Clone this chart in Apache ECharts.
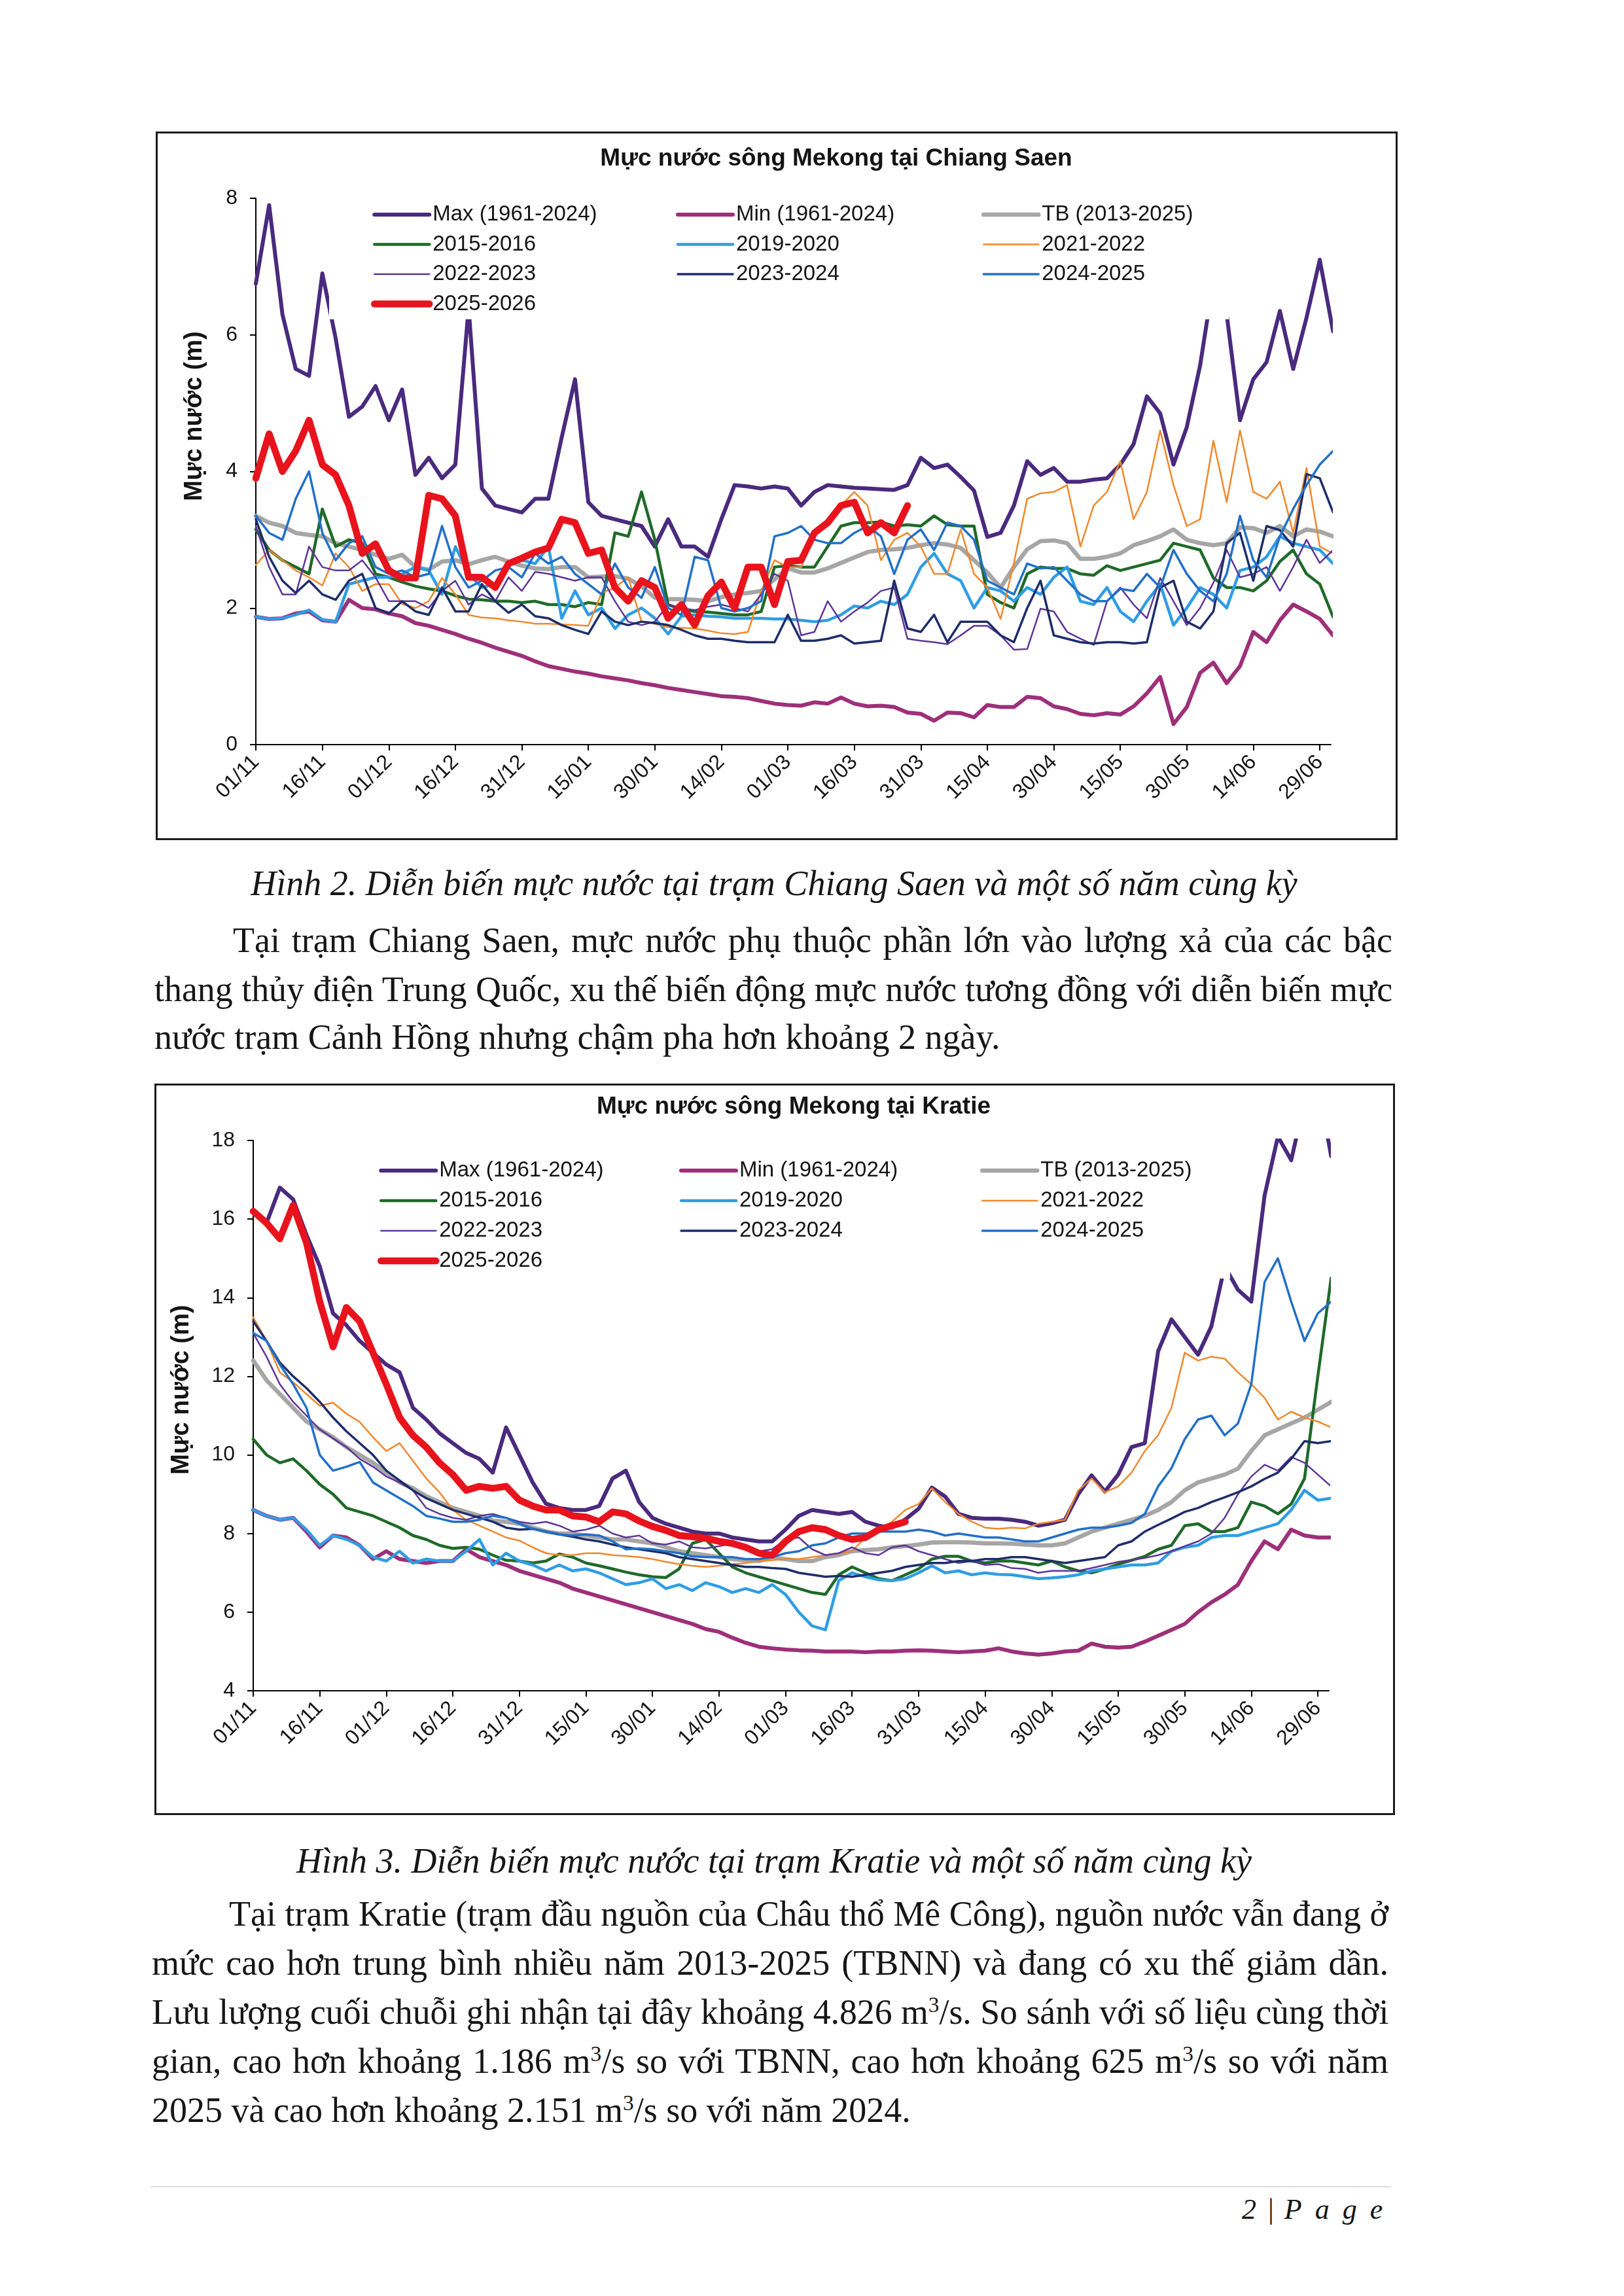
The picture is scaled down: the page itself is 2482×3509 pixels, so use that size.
<!DOCTYPE html>
<html lang="vi">
<head>
<meta charset="utf-8">
<title>Mực nước sông Mekong</title>
<script src="https://cdn.jsdelivr.net/npm/echarts@6.0.0/dist/echarts.min.js"></script>
<style>
  html, body { margin:0; padding:0; background:#fff; }
  body { width:2482px; height:3509px; position:relative; overflow:hidden; color:#161616;
         font-family:"Liberation Serif","Times New Roman",serif; }
  .box { position:absolute; border:3px solid #1b1b1b; box-sizing:border-box; background:#fff; }
  .box > div { position:absolute; left:0; top:0; }
  .t { position:absolute; font-size:54px; line-height:74px; white-space:nowrap; transform-origin:0 50%; }
  .j { text-align:justify; text-align-last:justify; }
  .cap { font-style:italic; text-align:center; }
  sup { font-size:0.62em; line-height:0; vertical-align:0.55em; }
  .rule { position:absolute; left:231px; top:3341px; width:1894px; height:2px; background:#dcdcdc; }
  .pg { position:absolute; top:3355px; left:1898px; font-size:44px; line-height:44px; white-space:nowrap; }
</style>
</head>
<body>

<div class="box" style="left:238px;top:201px;width:1898px;height:1083px"><div id="c1" style="width:1892px;height:1077px"></div></div>

<div class="t cap" style="left:383px;top:1313px;width:1600px">Hình 2. Diễn biến mực nước tại trạm Chiang Saen và một số năm cùng kỳ</div>
<div class="t j" style="left:356px;top:1400px;width:1772px">Tại trạm Chiang Saen, mực nước phụ thuộc phần lớn vào lượng xả của các bậc</div>
<div class="t j" style="left:236px;top:1475px;width:1892px">thang thủy điện Trung Quốc, xu thế biến động mực nước tương đồng với diễn biến mực</div>
<div class="t" style="left:236px;top:1548px">nước trạm Cảnh Hồng nhưng chậm pha hơn khoảng 2 ngày.</div>

<div class="box" style="left:236px;top:1656px;width:1896px;height:1118px"><div id="c2" style="width:1890px;height:1112px"></div></div>

<div class="t cap" style="left:383px;top:2807px;width:1600px">Hình 3. Diễn biến mực nước tại trạm Kratie và một số năm cùng kỳ</div>
<div class="t j" style="left:350px;top:2888px;width:1772px">Tại trạm Kratie (trạm đầu nguồn của Châu thổ Mê Công), nguồn nước vẫn đang ở</div>
<div class="t j" style="left:232px;top:2963px;width:1890px">mức cao hơn trung bình nhiều năm 2013-2025 (TBNN) và đang có xu thế giảm dần.</div>
<div class="t j" style="left:232px;top:3038px;width:1890px">Lưu lượng cuối chuỗi ghi nhận tại đây khoảng 4.826 m<sup>3</sup>/s. So sánh với số liệu cùng thời</div>
<div class="t j" style="left:232px;top:3113px;width:1890px">gian, cao hơn khoảng 1.186 m<sup>3</sup>/s so với TBNN, cao hơn khoảng 625 m<sup>3</sup>/s so với năm</div>
<div class="t" style="left:232px;top:3188px">2025 và cao hơn khoảng 2.151 m<sup>3</sup>/s so với năm 2024.</div>

<div class="rule"></div>
<div class="pg"><i>2</i><span style="margin:0 16px 0 18px">|</span><i style="letter-spacing:20px">Page</i></div>

<script>
// ---------------- data ----------------
const TICK_LABELS = ['01/11','16/11','01/12','16/12','31/12','15/01','30/01','14/02','01/03','16/03','31/03','15/04','30/04','15/05','30/05','14/06','29/06'];
const STEP = 3; // days between read-off points, starting 01/11
const NAMES = ['Max (1961-2024)','Min (1961-2024)','TB (2013-2025)','2015-2016','2019-2020','2021-2022','2022-2023','2023-2024','2024-2025','2025-2026'];

// Chiang Saen (m)
const csMax = [6.75,7.9,6.3,5.5,5.4,6.9,5.95,4.8,4.95,5.25,
4.75,5.2,3.95,4.2,3.9,4.1,6.4,3.75,3.5,3.45,
3.4,3.6,3.6,4.5,5.35,3.55,3.35,3.3,3.25,3.2,
2.9,3.3,2.9,2.9,2.75,3.3,3.8,3.78,3.75,3.78,
3.75,3.5,3.7,3.8,3.78,3.76,3.75,3.74,3.73,3.8,
4.2,4.05,4.1,3.92,3.72,3.04,3.1,3.5,4.15,3.95,
4.05,3.85,3.85,3.88,3.9,4.1,4.4,5.1,4.85,4.1,
4.65,5.55,6.8,6.3,4.75,5.35,5.6,6.35,5.5,6.25,
7.1,6.05];
const csMin = [1.87,1.84,1.85,1.92,1.95,1.82,1.8,2.12,2.0,1.98,
1.92,1.88,1.78,1.74,1.68,1.62,1.55,1.49,1.42,1.36,
1.3,1.22,1.15,1.11,1.07,1.04,1.0,0.97,0.94,0.9,
0.87,0.83,0.8,0.77,0.74,0.71,0.7,0.68,0.64,0.6,
0.58,0.57,0.62,0.6,0.69,0.6,0.56,0.57,0.55,0.47,
0.45,0.35,0.47,0.46,0.4,0.58,0.55,0.55,0.7,0.68,
0.56,0.52,0.45,0.43,0.46,0.44,0.56,0.75,0.99,0.3,
0.55,1.05,1.2,0.9,1.15,1.65,1.5,1.82,2.05,1.95,
1.84,1.6];
const csTB = [3.35,3.25,3.2,3.1,3.07,3.05,2.95,2.9,2.85,2.78,
2.72,2.78,2.6,2.56,2.68,2.7,2.64,2.7,2.75,2.68,
2.62,2.58,2.57,2.6,2.6,2.45,2.46,2.47,2.43,2.32,
2.15,2.13,2.13,2.12,2.1,2.16,2.2,2.22,2.25,2.42,
2.58,2.52,2.52,2.58,2.66,2.74,2.82,2.85,2.86,2.88,
2.92,2.95,2.93,2.88,2.7,2.52,2.3,2.6,2.86,2.98,
2.99,2.95,2.72,2.72,2.75,2.8,2.92,2.98,3.05,3.15,
3.0,2.95,2.92,2.95,3.18,3.17,3.1,3.2,3.05,3.15,
3.12,3.05];
const cs2015 = [3.15,2.85,2.7,2.6,2.5,3.45,2.9,3.0,2.95,2.5,
2.45,2.38,2.32,2.28,2.25,2.18,2.13,2.12,2.1,2.1,
2.08,2.1,2.05,2.05,2.02,2.08,2.05,3.1,3.05,3.7,
3.0,2.05,1.98,1.95,1.94,1.92,1.9,1.9,1.95,2.6,
2.62,2.6,2.6,2.9,3.2,3.25,3.25,3.26,3.2,3.22,
3.2,3.35,3.22,3.2,3.2,2.2,2.08,2.0,2.5,2.6,
2.58,2.58,2.5,2.48,2.62,2.55,2.6,2.65,2.7,2.95,
2.9,2.85,2.44,2.3,2.3,2.25,2.4,2.68,2.85,2.5,
2.35,1.87];
const cs2019 = [1.87,1.84,1.85,1.9,1.97,1.83,1.8,2.35,2.4,2.45,
2.45,2.5,2.6,2.55,2.2,2.9,2.5,2.3,2.35,2.65,
2.7,2.65,2.9,1.85,2.25,1.9,2.0,1.7,1.9,2.0,
1.85,1.62,1.88,1.9,1.88,1.87,1.85,1.85,1.85,1.84,
1.84,1.82,1.8,1.82,1.9,2.03,2.0,2.1,2.05,2.2,
2.6,2.8,2.5,2.4,2.0,2.3,2.25,2.1,2.3,2.2,
2.45,2.6,2.1,2.05,2.3,1.95,1.8,2.1,2.35,1.75,
2.0,2.3,2.2,2.0,2.55,2.6,2.75,3.05,2.95,2.9,
2.85,2.65];
const cs2021 = [2.63,2.85,2.7,2.55,2.45,2.33,2.8,2.6,2.25,2.35,
2.35,2.06,2.0,2.1,2.44,2.2,1.9,1.86,1.85,1.82,
1.8,1.77,1.77,1.76,1.75,1.74,2.22,2.3,2.45,1.8,
1.77,1.72,1.71,1.7,1.67,1.63,1.62,1.65,2.25,2.7,
2.6,2.6,3.1,3.3,3.5,3.7,3.5,2.7,3.0,3.1,
2.9,2.5,2.5,3.15,2.5,2.3,1.84,2.66,3.6,3.68,
3.7,3.8,2.9,3.5,3.7,4.15,3.3,3.7,4.6,3.8,
3.2,3.3,4.45,3.55,4.6,3.7,3.6,3.85,3.1,4.05,
2.9,2.8];
const cs2022 = [3.2,2.6,2.2,2.2,2.9,2.6,2.55,2.55,2.7,2.45,
2.1,2.1,2.1,2.0,2.25,2.4,2.05,2.2,2.1,2.45,
2.25,2.53,2.5,2.45,2.4,2.45,2.45,2.1,1.8,1.75,
1.8,2.05,2.0,1.97,2.02,2.05,2.0,1.95,2.2,2.5,
2.4,1.6,1.65,2.1,1.8,1.95,2.08,2.25,2.3,1.55,
1.52,1.5,1.47,1.6,1.74,1.74,1.6,1.39,1.4,1.99,
1.95,1.65,1.55,1.46,2.1,2.3,2.05,1.85,2.44,2.1,
1.75,2.0,2.37,2.85,2.45,2.5,2.6,2.25,2.6,3.0,
2.66,2.85];
const cs2023 = [3.3,2.75,2.4,2.22,2.4,2.2,2.12,2.4,2.5,2.0,
1.92,2.1,1.95,1.9,2.3,1.95,1.95,2.35,2.1,1.93,
2.05,1.88,1.85,1.75,1.68,1.62,1.95,1.8,1.75,1.8,
1.78,1.75,1.68,1.6,1.55,1.55,1.52,1.5,1.5,1.5,
1.9,1.52,1.52,1.55,1.6,1.48,1.5,1.52,2.4,1.7,
1.65,1.9,1.5,1.8,1.8,1.8,1.6,1.5,2.0,2.4,
1.6,1.55,1.5,1.48,1.5,1.5,1.48,1.5,2.3,2.4,
1.8,1.7,1.95,2.95,3.1,2.4,3.2,3.14,2.9,3.96,
3.9,3.4];
const cs2024 = [3.35,3.1,3.0,3.6,4.0,3.1,2.7,2.95,3.05,2.6,
2.5,2.55,2.45,2.5,3.2,2.6,2.3,2.4,2.55,2.6,
2.45,2.8,2.65,2.75,2.5,2.35,2.2,2.65,2.3,2.15,
2.6,2.0,1.9,2.75,2.7,2.0,1.95,2.0,2.1,3.05,
3.1,3.2,3.0,2.95,2.95,3.1,3.2,3.05,2.5,3.0,
3.15,2.85,3.25,3.2,3.0,2.4,2.3,2.2,2.65,2.58,
2.6,2.4,2.2,2.1,2.1,2.28,2.25,2.5,2.3,2.85,
2.5,2.25,2.1,2.5,3.35,2.7,2.45,3.05,3.45,3.8,
4.1,4.3];
const cs2025 = [3.9,4.55,4.0,4.3,4.75,4.1,3.95,3.5,2.8,2.94,
2.55,2.44,2.44,3.65,3.6,3.35,2.45,2.45,2.3,2.65,
2.73,2.82,2.88,3.3,3.25,2.8,2.85,2.3,2.1,2.4,
2.3,1.85,2.05,1.75,2.18,2.38,2.0,2.6,2.6,2.05,
2.68,2.7,3.1,3.25,3.5,3.55,3.1,3.25,3.1,3.5];

// Kratie (m)
const krMax = [16.2,15.9,16.8,16.5,15.6,14.8,13.6,13.3,12.9,12.6,
12.3,12.1,11.2,10.9,10.55,10.3,10.05,9.9,9.55,10.7,
10.0,9.3,8.76,8.65,8.6,8.6,8.7,9.4,9.6,8.8,
8.4,8.25,8.15,8.05,8.0,8.0,7.9,7.85,7.8,7.8,
8.1,8.45,8.6,8.55,8.5,8.55,8.3,8.2,8.15,8.36,
8.63,9.17,8.94,8.5,8.4,8.38,8.38,8.35,8.3,8.2,
8.26,8.35,9.0,9.48,9.07,9.5,10.2,10.3,12.64,13.45,
13.0,12.55,13.27,14.8,14.2,13.9,16.6,18.1,17.5,19.0,
19.5,17.6];
const krMin = [8.6,8.45,8.35,8.4,8.05,7.65,7.95,7.9,7.7,7.35,
7.55,7.35,7.3,7.25,7.3,7.3,7.6,7.4,7.3,7.2,
7.05,6.95,6.85,6.75,6.6,6.5,6.4,6.3,6.2,6.1,
6.0,5.9,5.8,5.7,5.57,5.5,5.35,5.22,5.12,5.08,
5.05,5.03,5.02,5.0,5.0,5.0,4.98,5.0,5.0,5.02,
5.03,5.02,5.0,4.98,5.0,5.02,5.08,5.0,4.95,4.92,
4.95,5.0,5.02,5.2,5.12,5.1,5.12,5.25,5.4,5.55,
5.7,6.0,6.25,6.45,6.7,7.3,7.8,7.6,8.1,7.95,
7.9,7.9];
const krTB = [12.4,11.9,11.55,11.2,10.85,10.65,10.45,10.2,10.0,9.8,
9.55,9.3,9.15,8.95,8.8,8.65,8.55,8.45,8.33,8.3,
8.25,8.15,8.05,8.0,8.0,7.95,7.9,7.85,7.85,7.8,
7.75,7.65,7.55,7.5,7.45,7.4,7.35,7.32,7.3,7.38,
7.35,7.3,7.3,7.4,7.45,7.55,7.58,7.6,7.65,7.68,
7.72,7.77,7.78,7.78,7.77,7.75,7.75,7.74,7.72,7.7,
7.7,7.75,7.9,8.05,8.15,8.25,8.35,8.45,8.6,8.8,
9.1,9.3,9.4,9.5,9.65,10.1,10.5,10.65,10.8,10.95,
11.15,11.35];
const kr2015 = [10.4,10.0,9.8,9.9,9.6,9.25,9.0,8.65,8.55,8.45,
8.3,8.15,7.95,7.85,7.7,7.62,7.65,7.6,7.45,7.32,
7.3,7.25,7.3,7.48,7.4,7.25,7.18,7.1,7.02,6.95,
6.9,6.88,7.1,7.75,7.85,7.5,7.15,7.0,6.9,6.8,
6.7,6.6,6.5,6.45,6.95,7.15,7.0,6.85,6.8,6.95,
7.1,7.35,7.42,7.42,7.3,7.25,7.3,7.3,7.25,7.2,
7.3,7.15,7.05,7.0,7.1,7.22,7.32,7.42,7.6,7.7,
8.2,8.25,8.05,8.05,8.15,8.8,8.7,8.5,8.75,9.4,
12.0,14.5];
const kr2019 = [8.6,8.45,8.35,8.4,8.1,7.7,7.95,7.85,7.7,7.4,
7.3,7.55,7.25,7.35,7.3,7.3,7.55,7.85,7.2,7.5,
7.3,7.2,7.05,7.2,7.05,7.1,7.0,6.85,6.7,6.75,
6.85,6.6,6.7,6.55,6.75,6.65,6.5,6.6,6.5,6.7,
6.45,6.0,5.65,5.55,6.8,7.0,6.9,6.82,6.8,6.85,
7.0,7.18,7.0,7.05,6.95,7.0,6.96,6.95,6.9,6.85,
6.87,6.9,6.95,7.05,7.1,7.15,7.2,7.2,7.25,7.55,
7.65,7.7,7.9,7.95,7.95,8.05,8.15,8.25,8.6,9.1,
8.85,8.9];
const kr2021 = [13.5,12.9,12.1,11.85,11.55,11.25,11.33,11.05,10.84,10.45,
10.1,10.3,9.85,9.4,9.05,8.6,8.35,8.2,8.05,7.9,
7.82,7.65,7.5,7.45,7.45,7.5,7.5,7.45,7.43,7.4,
7.35,7.28,7.22,7.18,7.15,7.18,7.22,7.25,7.3,7.32,
7.35,7.35,7.4,7.45,7.5,7.55,7.9,8.1,8.3,8.6,
8.75,9.15,8.8,8.5,8.3,8.15,8.12,8.15,8.13,8.25,
8.3,8.35,9.1,9.4,9.05,9.2,9.55,10.1,10.5,11.2,
12.6,12.4,12.5,12.45,12.1,11.8,11.45,10.9,11.1,10.95,
10.85,10.7];
const kr2022 = [13.1,12.5,11.8,11.35,11.0,10.65,10.42,10.2,9.9,9.7,
9.45,9.3,9.1,8.65,8.5,8.4,8.35,8.45,8.5,8.4,
8.3,8.25,8.3,8.2,8.05,8.1,8.2,8.0,7.9,7.95,
7.75,7.72,7.8,7.65,7.62,7.68,7.75,7.6,7.55,7.6,
7.85,7.9,7.6,7.45,7.5,7.65,7.5,7.45,7.65,7.7,
7.55,7.45,7.35,7.25,7.3,7.2,7.22,7.12,7.1,7.0,
7.05,7.05,7.05,7.12,7.2,7.28,7.33,7.38,7.45,7.55,
7.68,7.8,8.0,8.4,9.0,9.45,9.75,9.6,9.95,9.8,
9.5,9.2];
const kr2023 = [13.4,12.9,12.35,12.0,11.7,11.35,10.95,10.6,10.3,10.0,
9.6,9.35,9.1,8.9,8.75,8.6,8.5,8.4,8.3,8.15,
8.1,8.12,8.05,7.98,7.92,7.85,7.8,7.72,7.65,7.6,
7.55,7.5,7.4,7.35,7.3,7.25,7.2,7.15,7.15,7.12,
7.1,7.0,6.95,6.9,6.92,6.9,6.95,7.0,7.05,7.15,
7.2,7.25,7.25,7.3,7.3,7.35,7.35,7.4,7.4,7.35,
7.3,7.25,7.3,7.35,7.4,7.7,7.8,8.05,8.22,8.38,
8.55,8.65,8.8,8.92,9.05,9.2,9.39,9.55,9.9,10.35,
10.3,10.35];
const kr2024 = [13.1,12.9,12.3,11.8,11.2,10.0,9.6,9.7,9.82,9.3,
9.1,8.9,8.7,8.45,8.38,8.3,8.3,8.35,8.45,8.4,
8.25,8.12,8.05,7.98,7.95,7.98,7.95,7.8,7.6,7.62,
7.6,7.55,7.5,7.42,7.4,7.4,7.4,7.35,7.35,7.4,
7.5,7.55,7.7,7.75,7.9,8.0,8.0,8.05,8.05,8.05,
8.1,8.05,7.95,8.0,7.95,7.9,7.9,7.85,7.8,7.8,
7.9,8.0,8.1,8.15,8.15,8.2,8.27,8.5,9.2,9.66,
10.4,10.9,11.0,10.5,10.8,11.8,14.4,15.0,13.9,12.9,
13.6,13.9];
const kr2025 = [16.2,15.9,15.5,16.35,15.4,13.9,12.75,13.75,13.4,12.6,
11.8,10.95,10.5,10.2,9.8,9.5,9.1,9.2,9.15,9.2,
8.85,8.7,8.6,8.6,8.45,8.42,8.3,8.55,8.5,8.32,
8.18,8.08,7.95,7.92,7.88,7.8,7.75,7.65,7.5,7.45,
7.8,8.05,8.15,8.1,7.95,7.85,7.9,8.1,8.2,8.3];

// ---------------- styles ----------------
const COLORS = ['#4a2a7e','#9e2f79','#a6a6a6','#1f6a29','#2f9de4','#f0882c','#5d3597','#1d2d6a','#2270c8','#e8131c'];
const WIDTHS = [6, 6, 6.5, 4.5, 4.5, 2.5, 2.5, 3.5, 3.5, 10.5];
const FONT = '"Liberation Sans", Arial, Helvetica, sans-serif';
const TICK_VALUES = TICK_LABELS.map((_, i) => i * 15);

function makeChart(id, cfg) {
  const chart = echarts.init(document.getElementById(id), null, { renderer: 'canvas' });
  const series = cfg.data.map((arr, k) => ({
    name: NAMES[k], type: 'line', symbol: 'none', showSymbol: false,
    data: arr.map((v, i) => [i * STEP, v]),
    lineStyle: { color: COLORS[k], width: WIDTHS[k], join: 'round', cap: 'round' },
    itemStyle: { color: COLORS[k] },
    animation: false, silent: true, clip: true, z: 2
  }));
  const cols = [[0, 3, 6, 9], [1, 4, 7], [2, 5, 8]];
  const legends = cols.map((col, c) => ({
    orient: 'vertical', left: cfg.legendLeft[c], top: cfg.legendTop, padding: 0,
    itemGap: cfg.legendGap, itemWidth: 84, itemHeight: 14, selectedMode: false,
    textStyle: { fontFamily: FONT, fontSize: 33, color: '#141414', lineHeight: 36 },
    itemStyle: { opacity: 0 },
    lineStyle: { width: 'inherit', cap: 'round', opacity: 1 },
    data: col.map(k => NAMES[k]), z: 5
  }));
  chart.setOption({
    animation: false,
    backgroundColor: '#fff',
    grid: { left: cfg.grid[0], top: cfg.grid[1], width: cfg.grid[2], height: cfg.grid[3],
            containLabel: false, outerBoundsMode: 'none' },
    legend: legends,
    xAxis: {
      type: 'value', min: 0, max: 242.5,
      axisLine: { show: true, onZero: false, lineStyle: { color: '#000', width: 2 } },
      axisTick: { show: true, length: 9, customValues: TICK_VALUES, lineStyle: { color: '#000', width: 2 } },
      axisLabel: { customValues: TICK_VALUES, rotate: 45, margin: 22, fontFamily: FONT, fontSize: 32, color: '#141414',
                   formatter: v => TICK_LABELS[Math.round(v / 15)] },
      splitLine: { show: false }
    },
    yAxis: {
      type: 'value', min: cfg.ymin, max: cfg.ymax, interval: 2,
      axisLine: { show: true, onZero: false, lineStyle: { color: '#000', width: 2 } },
      axisTick: { show: true, length: 9, lineStyle: { color: '#000', width: 2 } },
      axisLabel: { margin: 28, fontFamily: FONT, fontSize: 32, color: '#141414' },
      splitLine: { show: false }
    },
    graphic: [
      { type: 'rect', z: 3, silent: true,
        shape: { x: cfg.mask[0], y: cfg.mask[1], width: cfg.mask[2], height: cfg.mask[3] },
        style: { fill: '#ffffff' } },
      { type: 'text', z: 6, x: cfg.title[1], y: cfg.title[2],
        style: { text: cfg.title[0], font: 'bold 37px ' + FONT, fill: '#141414', align: 'center', verticalAlign: 'middle' } },
      { type: 'text', z: 6, x: cfg.yname[0], y: cfg.yname[1], rotation: Math.PI / 2,
        style: { text: 'Mực nước (m)', font: 'bold 38px ' + FONT, fill: '#141414', align: 'center', verticalAlign: 'middle' } }
    ],
    series: series
  });
}

makeChart('c1', {
  data: [csMax, csMin, csTB, cs2015, cs2019, cs2021, cs2022, cs2023, cs2024, cs2025],
  ymin: 0, ymax: 8,
  grid: [150, 99, 1643, 835],
  legendLeft: [326, 792, 1259], legendTop: 106, legendGap: 9.5,
  mask: [262, 96, 1375, 188],
  title: ['Mực nước sông Mekong tại Chiang Saen', 1037, 39],
  yname: [57, 432]
});
makeChart('c2', {
  data: [krMax, krMin, krTB, kr2015, kr2019, kr2021, kr2022, kr2023, kr2024, kr2025],
  ymin: 4, ymax: 18,
  grid: [148, 84, 1644, 841],
  legendLeft: [338, 799, 1259], legendTop: 112, legendGap: 10,
  mask: [266, 100, 1375, 195],
  title: ['Mực nước sông Mekong tại Kratie', 974, 33],
  yname: [39, 465]
});

// keep justified lines inside their measured width
document.querySelectorAll('.t.j').forEach(el => {
  const sw = el.scrollWidth, cw = el.clientWidth;
  if (sw > cw + 1) el.style.transform = 'scaleX(' + (cw / sw).toFixed(4) + ')';
});
</script>
</body>
</html>
